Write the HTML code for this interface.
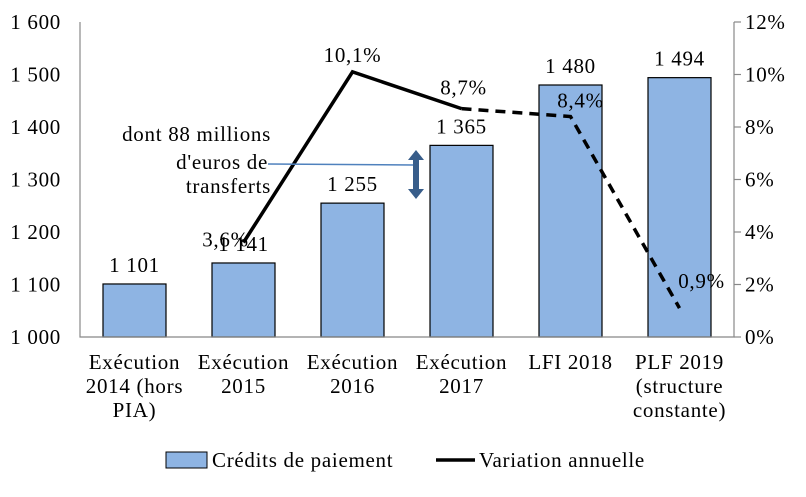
<!DOCTYPE html>
<html><head><meta charset="utf-8"><style>
body{margin:0;background:#fff;}
svg text{font-family:"Liberation Serif",serif;font-size:21px;letter-spacing:0.7px;fill:#000;}
</style></head><body>
<svg id="chart" width="806" height="492" xmlns="http://www.w3.org/2000/svg"></svg>
<script>
const categories=[["Exécution","2014 (hors","PIA)"],["Exécution","2015"],["Exécution","2016"],["Exécution","2017"],["LFI 2018"],["PLF 2019","(structure","constante)"]];
const credits=[1101,1141,1255,1365,1480,1494];
const creditLabels=["1 101","1 141","1 255","1 365","1 480","1 494"];
const variation=[null,3.6,10.1,8.7,8.4,1.1];
const variationLabels=["","3,6%","10,1%","8,7%","8,4%","0,9%"];
const leftTicks=[1000,1100,1200,1300,1400,1500,1600];
const leftTickLabels=["1 000","1 100","1 200","1 300","1 400","1 500","1 600"];
const rightTicks=[0,2,4,6,8,10,12];
const rightTickLabels=["0%","2%","4%","6%","8%","10%","12%"];

const NS="http://www.w3.org/2000/svg";
const svg=document.getElementById('chart');
const X0=80,X1=734,Y0=337,Y1=22;
const band=(X1-X0)/categories.length;
const xc=i=>X0+band*(i+0.5);
const yL=v=>Y0-(v-1000)/600*(Y0-Y1);
const yR=v=>Y0-v/12*(Y0-Y1);
function mk(tag,attrs,parent){const e=document.createElementNS(NS,tag);for(const k in attrs)e.setAttribute(k,attrs[k]);(parent||svg).appendChild(e);return e;}
function txt(x,y,s,anchor,parent){const t=mk('text',{x:x,y:y,'text-anchor':anchor||'middle'},parent);t.textContent=s;return t;}

credits.forEach((v,i)=>{
  const r=mk('rect',{x:xc(i)-31.5,y:yL(v),width:63,height:Y0-yL(v),fill:'#8eb4e3',stroke:'#000','stroke-width':1.2});
  
  
});
const ax=mk('path',{d:`M${X0} ${Y1}V${Y0}H${X1}V${Y1}`,fill:'none',stroke:'#888','stroke-width':1.2});


leftTicks.forEach((v,i)=>{
  const t=txt(X0-19,yL(v)+7,leftTickLabels[i],'end');
  
  
});
rightTicks.forEach((v,i)=>{
  mk('line',{x1:X1,x2:X1+7,y1:yR(v),y2:yR(v),stroke:'#888','stroke-width':1.2});
  const t=txt(X1+11,yR(v)+7,rightTickLabels[i],'start');
  
  
});
categories.forEach((lines,i)=>{
  lines.forEach((l,j)=>{
    const t=txt(xc(i),Y0+32+j*24,l);
    
    
  });
});
const solid=[],dashed=[];
variation.forEach((v,i)=>{if(v===null)return;const p=xc(i)+','+yR(v);if(i<=3)solid.push(p);if(i>=3)dashed.push(p);});
const l1=mk('polyline',{points:solid.join(' '),fill:'none',stroke:'#000','stroke-width':3.5});


const l2=mk('polyline',{points:dashed.join(' '),fill:'none',stroke:'#000','stroke-width':3.5,'stroke-dasharray':'10,7'});


credits.forEach((v,i)=>{
  const t=txt(xc(i),yL(v)-12,creditLabels[i]);
  
  
});
const offs=[[0,0],[-18,4],[0,-10],[2,-14],[10,-9],[22,-20]];
variation.forEach((v,i)=>{
  if(v===null)return;
  const t=txt(xc(i)+offs[i][0],yR(v)+offs[i][1],variationLabels[i]);
  
  
});
const an=mk('g',{});


txt(271,141,"dont 88 millions",'end',an);
txt(268,169,"d'euros de",'end',an);
txt(271,193,"transferts",'end',an);
mk('line',{x1:268,y1:164,x2:414,y2:165,stroke:'#4f81bd','stroke-width':1.5},an);
mk('path',{d:'M416 150L424 160H419V189H424L416 199L408 189H413V160H408Z',fill:'#385d8a'},an);
const lg=mk('g',{});


mk('rect',{x:166,y:452,width:41,height:16,fill:'#8eb4e3',stroke:'#000','stroke-width':1},lg);
txt(212,467,'Crédits de paiement','start',lg);
mk('line',{x1:436,x2:475,y1:460,y2:460,stroke:'#000','stroke-width':3.5},lg);
txt(479,467,'Variation annuelle','start',lg);
</script>
</body></html>
